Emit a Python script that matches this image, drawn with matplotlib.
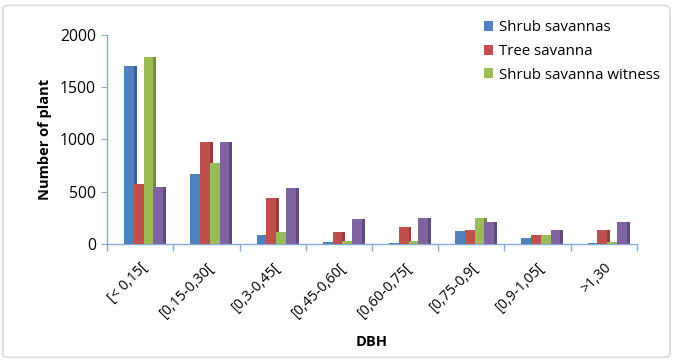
import numpy as np
import matplotlib.pyplot as plt
from matplotlib.patches import FancyBboxPatch

plt.rcParams['font.family'] = ['Open Sans', 'DejaVu Sans']

# DBH classes
classes = ['[< 0,15[', '[0,15-0,30[', '[0,3-0,45[', '[0,45-0,60[',
           '[0,60-0,75[', '[0,75-0,9[', '[0,9-1,05[', '>1,30']

# number of plants per class
shrub_savannas = [1700, 670, 85, 20, 10, 125, 50, 10]
tree_savanna = [570, 975, 440, 115, 160, 135, 85, 130]
shrub_witness = [1790, 775, 110, 25, 30, 245, 85, 20]
fourth_series = [540, 975, 530, 235, 250, 205, 130, 210]

series = [shrub_savannas, tree_savanna, shrub_witness, fourth_series]
names = ['Shrub savannas', 'Tree savanna', 'Shrub savanna witness', None]
colors = ['#4F81BD', '#C0504D', '#9BBB59', '#8064A2']
side_colors = ['#3A6291', '#953D3A', '#75903F', '#5F4A7B']

fig = plt.figure(figsize=(6.74, 3.61), dpi=100)
# light frame around the chart area
fig.patches.append(FancyBboxPatch((0.004, 0.01), 0.99, 0.975, boxstyle='round,pad=0,rounding_size=0.01',
                                  transform=fig.transFigure, fill=False, edgecolor='#D9D9D9', linewidth=1.2))
ax = fig.add_axes([0.159, 0.325, 0.786, 0.578])

x = np.arange(len(classes))
w = 0.147
depth = 0.045
handles = []
for i, vals in enumerate(series):
    pos = x - 0.17 + i * w
    # darker side face to suggest the 3D look
    ax.bar(pos + w / 2 + depth / 2, vals, width=depth, color=side_colors[i], zorder=2)
    b = ax.bar(pos, vals, width=w, color=colors[i], zorder=3)
    if names[i]:
        handles.append((b, names[i]))

ax.set_xlim(-0.5, len(classes) - 0.5)
ax.set_ylim(0, 2000)
ax.set_yticks([0, 500, 1000, 1500, 2000])
ax.set_xticks(x)
ax.set_xticklabels(classes, rotation=45, ha='right', rotation_mode='anchor')
ax.set_xticks(np.arange(-0.5, len(classes)), minor=True)
ax.tick_params(axis='x', which='major', length=0, pad=12, labelsize=10.3, colors='#000000')
ax.tick_params(axis='x', which='minor', length=5, color='#86A9D6', width=1)
ax.tick_params(axis='y', length=4, color='#86A9D6', labelsize=11.3, pad=4)

for s in ['top', 'right']:
    ax.spines[s].set_visible(False)
for s in ['left', 'bottom']:
    ax.spines[s].set_color('#86A9D6')
    ax.spines[s].set_linewidth(1)

ax.set_ylabel('Number of plant', fontsize=10.5, fontweight='bold', labelpad=6)
ax.set_xlabel('DBH', fontsize=10.5, fontweight='bold', labelpad=10)

ax.legend([h[0] for h in handles], [h[1] for h in handles], loc='upper left',
          bbox_to_anchor=(0.685, 1.135), frameon=False, fontsize=10.8,
          handlelength=0.65, handleheight=0.65, handletextpad=0.35, labelspacing=0.58)

fig.savefig('out.png', dpi=100)
